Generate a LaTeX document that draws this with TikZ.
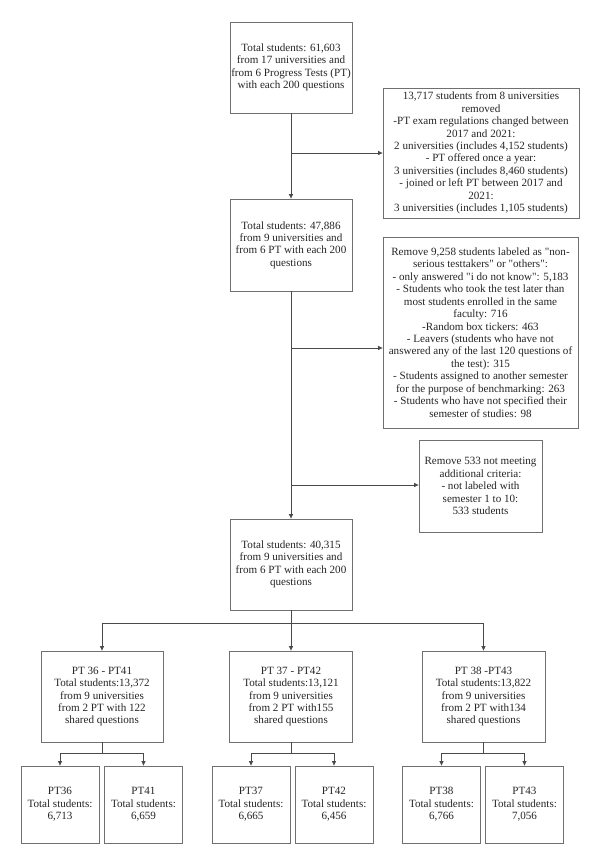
\documentclass[tikz,border=0pt]{standalone}
\usepackage{fontspec}
\setmainfont{Liberation Serif}[Ligatures=TeXOff]
\usetikzlibrary{arrows.meta}
\definecolor{linec}{HTML}{4A4A4A}
\definecolor{boxc}{HTML}{707070}
\definecolor{textc}{HTML}{262626}
\begin{document}
\begin{tikzpicture}[x=1pt,y=-1pt,
  box/.style={draw=boxc,line width=0.8pt,align=center,inner sep=0pt,text=textc,
    font=\fontsize{11.1}{12.45}\selectfont},
  conn/.style={draw=linec,line width=0.7pt},
  arr/.style={conn,-{Triangle[length=4.5pt,width=4pt]}}]
\useasboundingbox (0,0) rectangle (600,865);
\fill[white] (0,0) rectangle (600,865);

\node[box,minimum width=122pt,minimum height=91pt] (b1) at (291,67.5)
  {Total students: 61,603\\from 17 universities and\\from 6 Progress Tests (PT)\\with each 200 questions};
\node[box,minimum width=196pt,minimum height=130pt] (b2) at (481,153)
  {13,717 students from 8 universities\\removed\\-PT exam regulations changed between\\2017 and 2021:\\2 universities (includes 4,152 students)\\- PT offered once a year:\\3 universities (includes 8,460 students)\\- joined or left PT between 2017 and\\2021:\\3 universities (includes 1,105 students)};
\node[box,minimum width=122pt,minimum height=92pt] (b3) at (291,245)
  {Total students: 47,886\\from 9 universities and\\from 6 PT with each 200\\questions};
\node[box,minimum width=195pt,minimum height=191pt] (b4) at (480.5,332.5)
  {Remove 9,258 students labeled as "non-\\serious testtakers" or "others":\\- only answered "i do not know": 5,183\\- Students who took the test later than\\most students enrolled in the same\\faculty: 716\\-Random box tickers: 463\\- Leavers (students who have not\\answered any of the last 120 questions of\\the test): 315\\- Students assigned to another semester\\for the purpose of benchmarking: 263\\- Students who have not specified their\\semester of studies: 98};
\node[box,minimum width=123pt,minimum height=92pt] (b5) at (480.5,486)
  {Remove 533 not meeting\\additional criteria:\\- not labeled with\\semester 1 to 10:\\533 students};
\node[box,minimum width=122pt,minimum height=91pt] (b6) at (291,564.5)
  {Total students: 40,315\\from 9 universities and\\from 6 PT with each 200\\questions};

\node[box,minimum width=122pt,minimum height=91pt] (bA) at (102,696.5)
  {PT 36 - PT41\\Total students:13,372\\from 9 universities\\from 2 PT with 122\\shared questions};
\node[box,minimum width=123pt,minimum height=91pt] (bB) at (291,696.5)
  {PT 37 - PT42\\Total students:13,121\\from 9 universities\\from 2 PT with155\\shared questions};
\node[box,minimum width=123pt,minimum height=91pt] (bC) at (483.5,696.5)
  {PT 38 -PT43\\Total students:13,822\\from 9 universities\\from 2 PT with134\\shared questions};

\tikzset{small/.style={box,minimum width=78pt,minimum height=77pt}}
\node[small] (s1) at (60,804.5) {PT36\\Total students:\\6,713};
\node[small] (s2) at (143.5,804.5) {PT41\\Total students:\\6,659};
\node[small] (s3) at (251,804.5) {PT37\\Total students:\\6,665};
\node[small] (s4) at (334,804.5) {PT42\\Total students:\\6,456};
\node[small] (s5) at (441.5,804.5) {PT38\\Total students:\\6,766};
\node[small] (s6) at (524.5,804.5) {PT43\\Total students:\\7,056};

\coordinate (j1) at (291,153);
\coordinate (j2) at (291,348);
\coordinate (j3) at (291,485);
\coordinate (j4) at (291,623);
\coordinate (jA) at (102,753);
\coordinate (jB) at (291,753);
\coordinate (jC) at (483.5,753);

\draw[arr] (b1.south) -- (b3.north);
\draw[arr] (j1) -- (b2.west |- j1);
\draw[arr] (b3.south) -- (b6.north);
\draw[arr] (j2) -- (b4.west |- j2);
\draw[arr] (j3) -- (b5.west |- j3);
\draw[conn] (b6.south) -- (j4);
\draw[arr] (j4) -| (bA.north);
\draw[arr] (j4) -- (bB.north);
\draw[arr] (j4) -| (bC.north);
\draw[conn] (bA.south) -- (jA);
\draw[arr] (jA) -| (s1.north);
\draw[arr] (jA) -| (s2.north);
\draw[conn] (bB.south) -- (jB);
\draw[arr] (jB) -| (s3.north);
\draw[arr] (jB) -| (s4.north);
\draw[conn] (bC.south) -- (jC);
\draw[arr] (jC) -| (s5.north);
\draw[arr] (jC) -| (s6.north);
\end{tikzpicture}
\end{document}
